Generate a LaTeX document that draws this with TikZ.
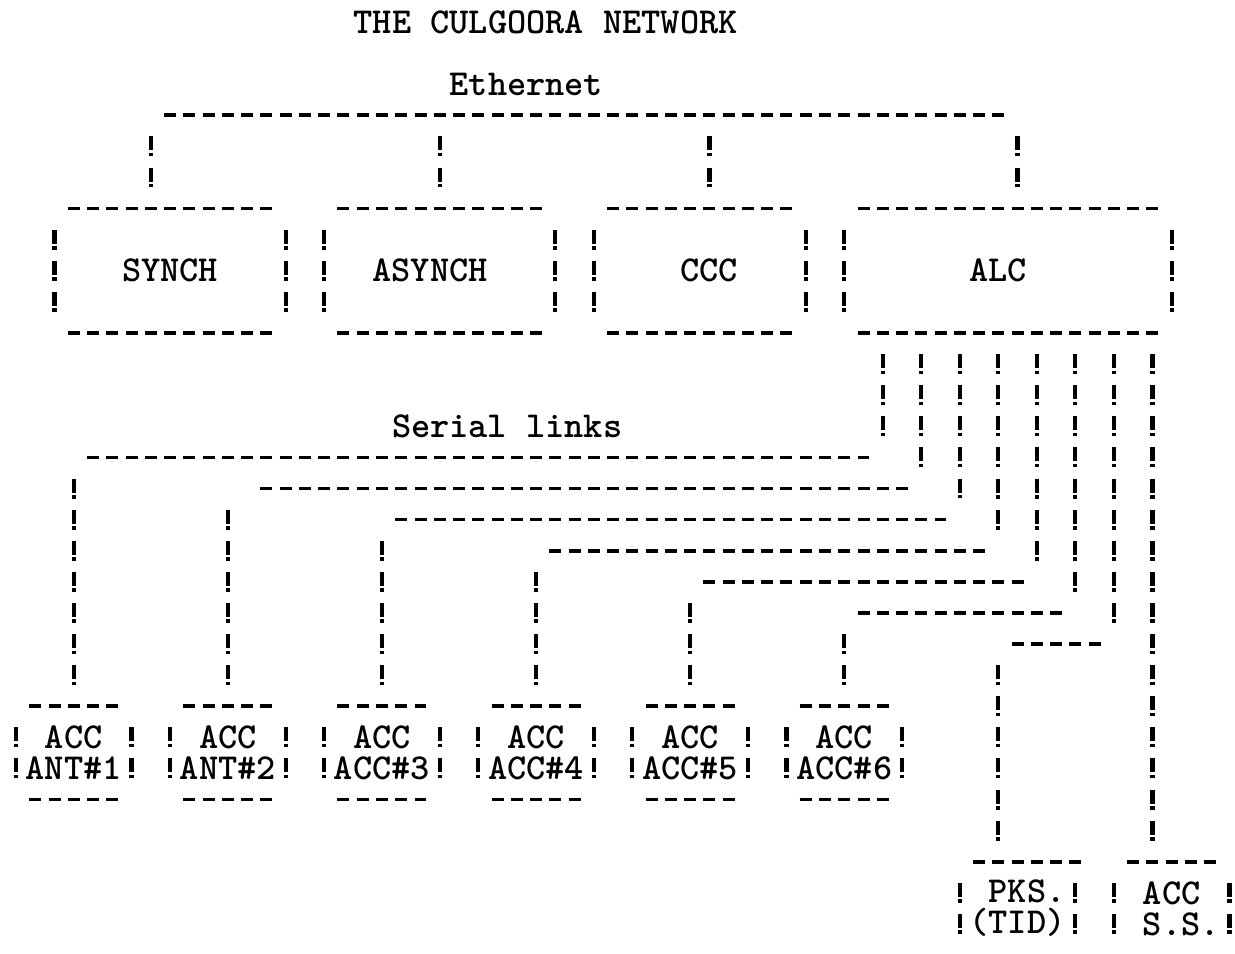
\documentclass[tikz,border=0pt]{standalone}
\usetikzlibrary{calc}
\newcommand{\asciifont}{\ttfamily\bfseries\fontsize{20.8}{17.7}\selectfont}
\tikzset{
  hdash/.style={line width=2.1pt, dash pattern=on 0.24cm off 0.1452cm},
  vbang/.style={line width=2.4pt,
    dash pattern=on 0.28cm off 0.05cm on 0.07cm off 0.222cm},
  txt/.style={font=\asciifont, inner sep=0pt},
  unitbox/.style 2 args={
    font=\asciifont, inner sep=0pt, outer sep=0pt, align=center,
    minimum width=#1*0.3852cm, minimum height=#2*0.622cm
  }
}
\begin{document}
\begin{tikzpicture}[x=0.3852cm, y=-0.622cm]
    \useasboundingbox (-0.8307,-0.7074) rectangle (63.29,29.936);

    % Titulos
    \node[txt] (title) at (27.5,0) {THE CULGOORA NETWORK};
    \node[txt] (ether) at (26.5,2) {Ethernet};
    \node[txt] (serial) at (25.5,13) {Serial links};

    % Cajas fila superior
    \node[unitbox={12}{4}] (syn) at (8,8) {SYNCH};
    \node[unitbox={12}{4}] (asyn) at (22,8) {ASYNCH\hphantom{.}};
    \node[unitbox={11}{4}] (ccc) at (35.5,8) {\hphantom{.}CCC};
    \node[unitbox={17}{4}] (alc) at (51.5,8) {ALC\hphantom{.}};

    % Cajas ACC
    \foreach \i/\n in {1/ANT\#1, 2/ANT\#2, 3/ACC\#3, 4/ACC\#4, 5/ACC\#5, 6/ACC\#6}{%
      \node[unitbox={6}{3}] (acc\i) at ({8*\i-5},23.5) {ACC\\\n};}
    \node[unitbox={6}{3}] (pks) at (52,28.5) {\hphantom{(}PKS.\\(TID)};
    \node[unitbox={6}{3}] (ss) at (60,28.5)
      {\hphantom{.}ACC\hphantom{.}\\\hphantom{.}S.S.};

    % Bordes
    \foreach \b in {syn,asyn,ccc,alc,acc1,acc2,acc3,acc4,acc5,acc6}{%
      \draw[hdash] ($(\b.north west)+(0.69,0)$) -- ($(\b.north east)+(-0.69,0)$);
      \draw[hdash] ($(\b.south west)+(0.69,0)$) -- ($(\b.south east)+(-0.69,0)$);
      \draw[vbang] ($(\b.north west)+(0,0.68)$) -- ($(\b.south west)+(0,-0.68)$);
      \draw[vbang] ($(\b.north east)+(0,0.68)$) -- ($(\b.south east)+(0,-0.68)$);}
    \foreach \b/\e in {pks/1, ss/0}{%
      \draw[hdash] ($(\b.north west)+(0.69,0)$) -- ($(\b.north east)+(\e-0.69,0)$);
      \draw[vbang] ($(\b.north west)+(0,0.68)$) -- ($(\b.south west)+(0,-0.68)$);
      \draw[vbang] ($(\b.north east)+(0,0.68)$) -- ($(\b.south east)+(0,-0.68)$);}

    % Bus Ethernet
    \coordinate (ethW) at (7,3);
    \coordinate (ethE) at (52,3);
    \draw[hdash] ($(ethW)+(0.69,0)$) -- ($(ethE)+(-0.69,0)$);
    \foreach \x/\b in {7/syn, 22/asyn, 36/ccc, 52/alc}{%
      \coordinate (tap\b) at (\x,3);
      \draw[vbang] ($(tap\b)+(0,0.68)$) -- ($(tap\b |- \b.north)+(0,-0.68)$);}

    % Enlaces serie
    \foreach \i/\c/\k/\g in {1/45/14/1, 2/47/15/2, 3/49/16/1,
                             4/51/17/1, 5/53/18/1, 6/55/19/1}{%
      \coordinate (bend\i) at (\c,\k);
      \draw[vbang] ($(bend\i |- alc.south)+(0,0.68)$) -- ($(bend\i)+(0,-0.68)$);
      \draw[hdash] ($(acc\i.north |- bend\i)+(\g-0.31,0)$) -- ($(bend\i)+(-0.69,0)$);
      \draw[vbang] ($(acc\i.north |- bend\i)+(0,0.68)$) -- ($(acc\i.north)+(0,-0.68)$);}

    % PKS
    \coordinate (bend7) at (57,20);
    \coordinate (drop7) at (51,20);
    \draw[vbang] ($(bend7 |- alc.south)+(0,0.68)$) -- ($(bend7)+(0,-0.68)$);
    \draw[hdash] ($(drop7)+(0.69,0)$) -- ($(bend7)+(-0.69,0)$);
    \draw[vbang] ($(drop7)+(0,0.68)$) -- ($(drop7 |- pks.north)+(0,-0.68)$);

    % ACC S.S.
    \coordinate (tap8) at (59,10);
    \draw[vbang] ($(tap8)+(0,0.68)$) -- ($(tap8 |- ss.north)+(0,-0.68)$);
\end{tikzpicture}
\end{document}
